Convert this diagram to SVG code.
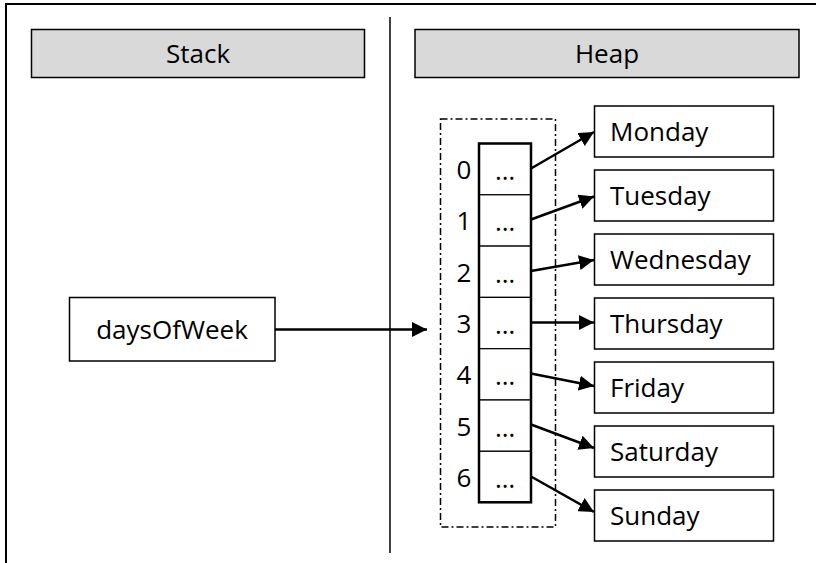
<svg xmlns="http://www.w3.org/2000/svg" width="816" height="563" viewBox="0 0 816 563">
<defs>
<style>
text{font-family:"Open Sans","Noto Sans",sans-serif;font-size:26px;fill:#000}
.hdr{fill:#d9d9d9;stroke:#000;stroke-width:1.5}
.box{fill:#fff;stroke:#000;stroke-width:1.5}
.cell{fill:#fff;stroke:#000;stroke-width:1.2}
.c{text-anchor:middle}
.arr{stroke:#000;stroke-width:2.5;fill:none;marker-end:url(#ah)}
</style>
<marker id="ah" viewBox="0 0 10 10" refX="10" refY="5" markerWidth="6" markerHeight="6" markerUnits="strokeWidth" orient="auto">
<path d="M0,0 L10,5 L0,10 z" fill="#000"/>
</marker>
</defs>
<rect width="816" height="563" fill="#fff"/>
<g id="frame" fill="none" stroke="#000">
<path d="M6,563 V4 H816" stroke-width="2"/>
<path d="M390,17 V553" stroke-width="1.5"/>
</g>
<g id="stack-header"><rect class="hdr" x="31.5" y="29.5" width="333" height="48"/><text class="c" x="198" y="63">Stack</text></g>
<g id="heap-header"><rect class="hdr" x="415" y="29.5" width="384" height="48"/><text class="c" x="607" y="63">Heap</text></g>
<g id="daysOfWeek"><rect class="box" x="69.5" y="297.5" width="205.5" height="63.5"/><text class="c" x="172" y="339">daysOfWeek</text></g>
<g id="array">
<rect x="440.5" y="119" width="115" height="408" fill="none" stroke="#000" stroke-width="1.5" stroke-dasharray="7,3,2,3"/>
<rect class="cell" x="479" y="143.5" width="52" height="51.3"/>
<rect class="cell" x="479" y="194.8" width="52" height="51.3"/>
<rect class="cell" x="479" y="246.1" width="52" height="51.3"/>
<rect class="cell" x="479" y="297.4" width="52" height="51.3"/>
<rect class="cell" x="479" y="348.7" width="52" height="51.3"/>
<rect class="cell" x="479" y="400" width="52" height="51.3"/>
<rect class="cell" x="479" y="451.3" width="52" height="51"/>
<rect x="479" y="143.5" width="52" height="358.8" fill="none" stroke="#000" stroke-width="2.5"/>
<g class="c">
<text x="464" y="179">0</text><text x="505" y="180">…</text>
<text x="464" y="230">1</text><text x="505" y="231">…</text>
<text x="464" y="282">2</text><text x="505" y="283">…</text>
<text x="464" y="333">3</text><text x="505" y="334">…</text>
<text x="464" y="384">4</text><text x="505" y="385">…</text>
<text x="464" y="436">5</text><text x="505" y="437">…</text>
<text x="464" y="487">6</text><text x="505" y="488">…</text>
</g>
</g>
<g id="monday"><rect class="box" x="594.5" y="106" width="179" height="51"/><text x="610" y="140.5">Monday</text></g>
<g id="tuesday"><rect class="box" x="594.5" y="170" width="179" height="51"/><text x="610" y="204.5">Tuesday</text></g>
<g id="wednesday"><rect class="box" x="594.5" y="234" width="179" height="51"/><text x="610" y="268.5">Wednesday</text></g>
<g id="thursday"><rect class="box" x="594.5" y="298" width="179" height="51"/><text x="610" y="332.5">Thursday</text></g>
<g id="friday"><rect class="box" x="594.5" y="362" width="179" height="51"/><text x="610" y="396.5">Friday</text></g>
<g id="saturday"><rect class="box" x="594.5" y="426" width="179" height="51"/><text x="610" y="460.5">Saturday</text></g>
<g id="sunday"><rect class="box" x="594.5" y="490" width="179" height="51"/><text x="610" y="524.5">Sunday</text></g>
<g id="connectors">
<line class="arr" x1="275" y1="329.5" x2="427" y2="329.5"/>
<line class="arr" x1="531" y1="168.5" x2="594" y2="132"/>
<line class="arr" x1="531" y1="219.5" x2="594" y2="196.5"/>
<line class="arr" x1="531" y1="271" x2="594" y2="260"/>
<line class="arr" x1="531" y1="322.5" x2="594" y2="322.5"/>
<line class="arr" x1="531" y1="373.5" x2="594" y2="386"/>
<line class="arr" x1="531" y1="424.5" x2="594" y2="448"/>
<line class="arr" x1="531" y1="476.5" x2="594" y2="512"/>
</g>
</svg>
